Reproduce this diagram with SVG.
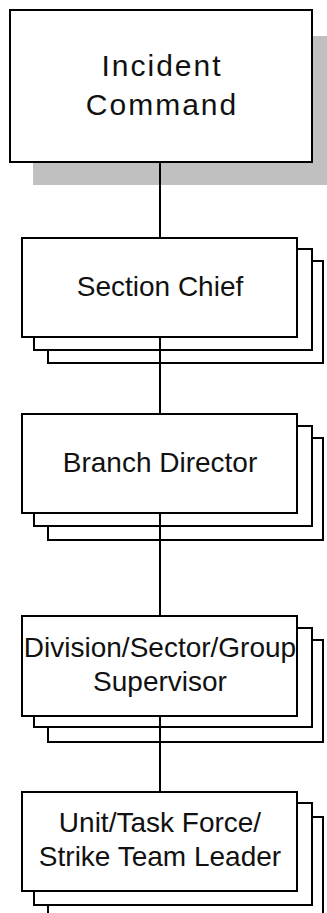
<svg xmlns="http://www.w3.org/2000/svg" width="327" height="913" viewBox="0 0 327 913">
  <style>
    .box { fill: #ffffff; stroke: #000000; stroke-width: 2; }
    .shadow { fill: #c0c0c0; stroke: none; }
    .link { stroke: #000000; stroke-width: 2; fill: none; }
    .label { font-family: "Liberation Sans", Arial, sans-serif; font-size: 28px; fill: #111111; text-anchor: middle; }
    .title { font-family: "Liberation Sans", Arial, sans-serif; font-size: 30px; fill: #111111; text-anchor: middle; letter-spacing: 2px; }
  </style>
  <rect width="327" height="913" fill="#ffffff"/>

  <!-- top level with drop shadow -->
  <g id="incident-command">
    <rect class="shadow" x="33" y="36" width="302" height="149"/>
    <rect class="box" x="10" y="10" width="302" height="152"/>
    <text class="title" x="162" y="76">Incident</text>
    <text class="title" x="162" y="115">Command</text>
  </g>

  <g id="section-chief">
    <rect class="box" x="48" y="261" width="275" height="102"/>
    <rect class="box" x="34" y="249" width="278" height="101"/>
    <rect class="box" x="22" y="238" width="275" height="99"/>
    <text class="label" x="160" y="296">Section Chief</text>
  </g>

  <g id="branch-director">
    <rect class="box" x="48" y="438" width="275" height="102"/>
    <rect class="box" x="34" y="426" width="278" height="100"/>
    <rect class="box" x="22" y="414" width="275" height="99"/>
    <text class="label" x="160" y="472">Branch Director</text>
  </g>

  <g id="division-supervisor">
    <rect class="box" x="48" y="640" width="275" height="102"/>
    <rect class="box" x="34" y="628" width="278" height="99"/>
    <rect class="box" x="22" y="616" width="275" height="100"/>
    <text class="label" x="160" y="657">Division/Sector/Group</text>
    <text class="label" x="160" y="691">Supervisor</text>
  </g>

  <g id="unit-leader">
    <rect class="box" x="48" y="817" width="275" height="110"/>
    <rect class="box" x="34" y="803" width="278" height="102"/>
    <rect class="box" x="22" y="792" width="275" height="99"/>
    <text class="label" x="160" y="832">Unit/Task Force/</text>
    <text class="label" x="160" y="866">Strike Team Leader</text>
  </g>

  <g id="connectors">
    <line class="link" x1="160" y1="162" x2="160" y2="238"/>
    <line class="link" x1="160" y1="337" x2="160" y2="414"/>
    <line class="link" x1="160" y1="513" x2="160" y2="616"/>
    <line class="link" x1="160" y1="716" x2="160" y2="792"/>
  </g>
</svg>
